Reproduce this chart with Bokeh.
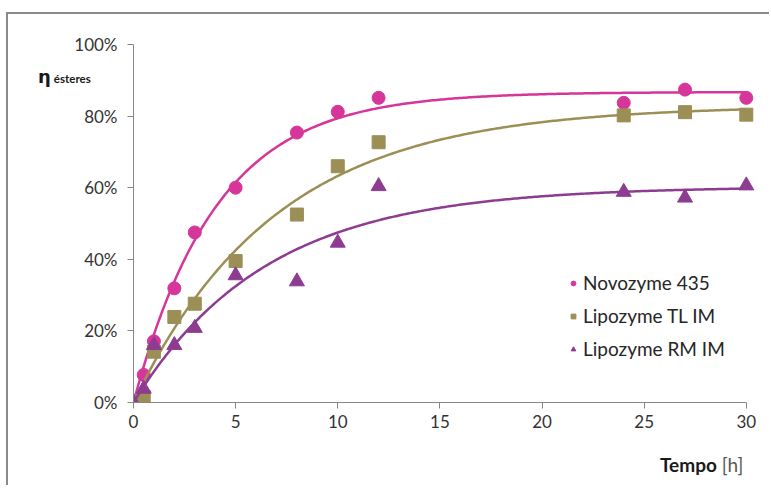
import numpy as np
from bokeh.plotting import figure
from bokeh.layouts import column
from bokeh.models import Range1d, Legend, LegendItem, PrintfTickFormatter, FixedTicker, Div
from bokeh.embed import file_html
from bokeh.resources import INLINE

# ---- data ----
tempo = [0, 0.5, 1, 2, 3, 5, 8, 10, 12, 24, 27, 30]
novozyme_435 = [0, 7.7, 17.1, 31.9, 47.5, 60.0, 75.4, 81.2, 85.1, 83.7, 87.4, 85.1]
lipozyme_tl = [0.3, 1.6, 14.2, 23.9, 27.6, 39.5, 52.5, 66.0, 72.7, 80.2, 81.1, 80.4]
lipozyme_rm = [0, 3.8, 16.0, 16.0, 20.8, 35.5, 33.8, 44.6, 60.4, 58.8, 57.2, 60.6]
series_names = ["Novozyme 435", "Lipozyme TL IM", "Lipozyme RM IM"]
x_ticks = [0, 5, 10, 15, 20, 25, 30]
y_ticks = [0, 20, 40, 60, 80, 100]

colors = ["#D6359A", "#9C8F55", "#8E3C91"]
markers = ["circle", "square", "triangle"]
sizes = [13, 13, 15]


def fit_saturation(t, y):
    """least-squares fit of y = A (1 - exp(-k t)) (trendline of the original)"""
    t = np.asarray(t, float)
    y = np.asarray(y, float)
    best = None
    for k in np.linspace(0.01, 1.5, 3000):
        f = 1 - np.exp(-k * t)
        A = (f @ y) / (f @ f)
        sse = ((y - A * f) ** 2).sum()
        if best is None or sse < best[0]:
            best = (sse, A, k)
    return best[1], best[2]


H = 471
p = figure(width=761, height=H, output_backend="svg", toolbar_location=None,
           x_range=Range1d(0, 30.5), y_range=Range1d(0, 100),
           min_border_left=125, min_border_right=13, min_border_top=30, min_border_bottom=83)
p.outline_line_color = None
p.grid.visible = False
p.background_fill_color = "white"

for ax in (p.xaxis[0], p.yaxis[0]):
    ax.axis_line_color = "#868686"
    ax.axis_line_width = 1
    ax.major_tick_line_color = "#868686"
    ax.major_tick_out = 6
    ax.major_tick_in = 0
    ax.minor_tick_line_color = None
    ax.major_label_text_font = "Lato"
    ax.major_label_text_font_size = "17px"
    ax.major_label_text_color = "#333333"

p.xaxis.ticker = FixedTicker(ticks=x_ticks)
p.xaxis.bounds = (0, 30)
p.xaxis.major_label_standoff = 6
p.yaxis.ticker = FixedTicker(ticks=y_ticks)
p.yaxis.formatter = PrintfTickFormatter(format="%d%%")
p.yaxis.major_label_standoff = 10

items = []
tt = np.linspace(0, 30, 300)
for name, ys, c, m, s in zip(series_names, [novozyme_435, lipozyme_tl, lipozyme_rm], colors, markers, sizes):
    A, k = fit_saturation(tempo, ys)
    p.line(tt, A * (1 - np.exp(-k * tt)), line_color=c, line_width=2.5)
    r = p.scatter(tempo, ys, marker=m, size=s, fill_color=c, line_color=c)
    items.append(LegendItem(label=name, renderers=[r]))

legend = Legend(items=items, location=(434, 42), border_line_color=None,
                background_fill_alpha=0, padding=0, margin=0, spacing=10,
                label_height=20, glyph_height=20, glyph_width=12, label_standoff=4,
                label_text_font="Lato", label_text_font_size="19px", label_text_color="#262626")
p.add_layout(legend, "center")

# axis titles as HTML overlays
eta_title = Div(
    text='<div style="white-space:nowrap;line-height:20px;color:#1a1a1a">'
         '<span style="font:bold 18px \'DejaVu Sans\'">η</span>'
         '<span style="font:bold 11.5px Lato;margin-left:3px">ésteres</span></div>',
    width=80, height=24,
    styles={"position": "absolute", "left": "25px", "top": "47px", "z-index": "5"})
x_title = Div(
    text='<div style="white-space:nowrap;line-height:20px;font-size:19px;font-family:Lato">'
         '<span style="font-weight:bold;color:#1a1a1a">Tempo</span> '
         '<span style="color:#595959">[h]</span></div>',
    width=110, height=24,
    styles={"position": "absolute", "left": "647px", "top": "436px", "z-index": "5"})

layout = column(p, eta_title, x_title,
                styles={"position": "relative", "margin-left": "6px", "margin-top": "12px",
                        "border-left": "2px solid #8a8a8a", "border-top": "2px solid #8a8a8a"})

open("out.html", "w").write(file_html(layout, INLINE))
